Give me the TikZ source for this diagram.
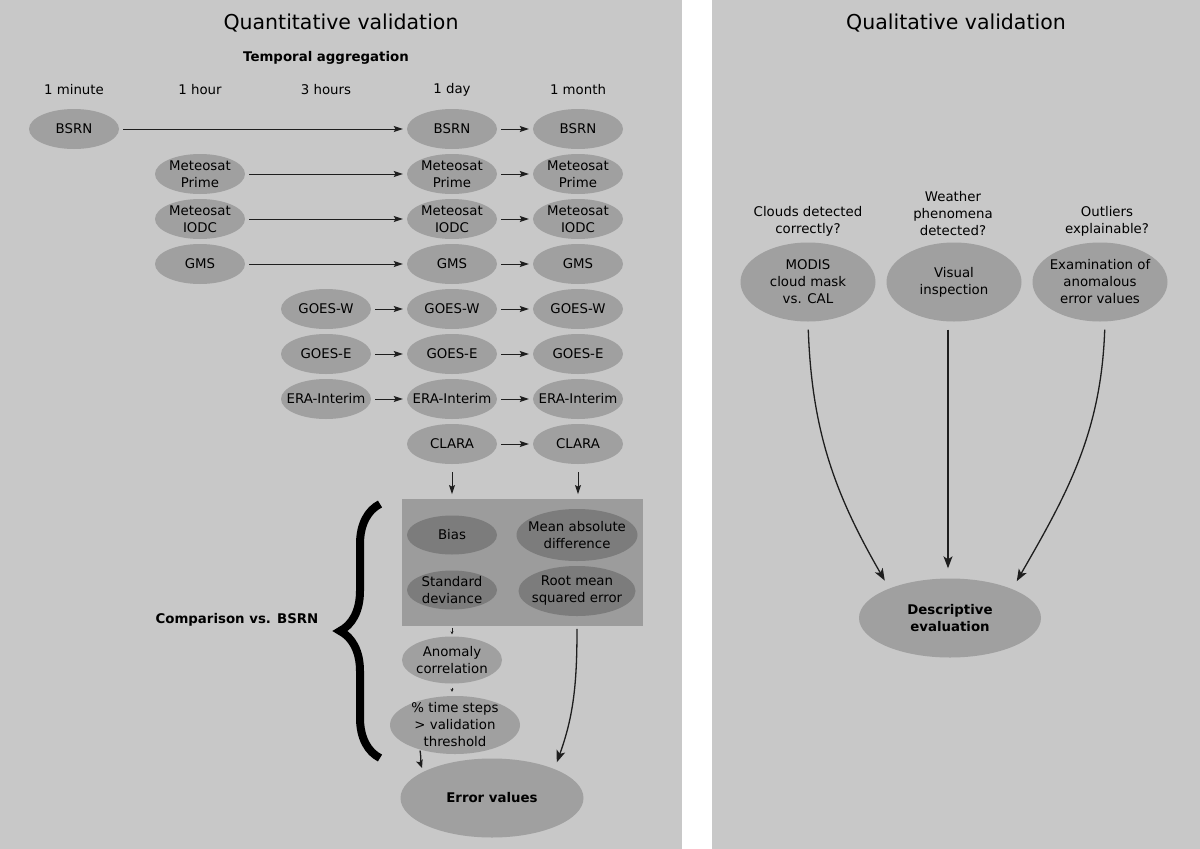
\documentclass[tikz,border=0pt]{standalone}
\usepackage{fontspec}
\setmainfont{DejaVu Sans}
\usetikzlibrary{shapes.geometric, arrows.meta, fit, backgrounds, decorations.pathreplacing}
\definecolor{panelGray}{RGB}{200, 200, 200}
\definecolor{nodeGray}{RGB}{160, 160, 160}
\definecolor{boxGray}{RGB}{156, 156, 156}
\definecolor{metricGray}{RGB}{124, 124, 124}
\definecolor{lineGray}{RGB}{30, 30, 30}
\newcommand{\lblfont}{\fontsize{13.33}{17}\selectfont}
\tikzset{
    % Base Ellipse Style
    dataset/.style={
        ellipse,
        fill=nodeGray,
        minimum width=90pt,
        minimum height=40pt,
        inner xsep=-9pt,
        inner ysep=-4pt,
        align=center,
        font=\lblfont
    },
    % Specific Role Styles
    metric/.style={dataset, fill=metricGray, minimum height=39pt},
    method/.style={dataset, minimum width=135pt, minimum height=79pt},
    result/.style={dataset, minimum width=182pt, minimum height=79pt, font=\lblfont\bfseries},
    % Text Styles
    colHead/.style={font=\lblfont, inner sep=0pt},
    question/.style={font=\lblfont, align=center, inner sep=0pt},
    panelTitle/.style={font=\fontsize{20.5}{24}\selectfont, inner sep=0pt},
    groupLabel/.style={font=\lblfont\bfseries, inner sep=0pt},
    % Arrow Styles
    arrow/.style={-{Stealth[length=9pt, width=6pt, inset=1.5pt]}, line width=1pt, draw=lineGray, shorten <=4pt, shorten >=4pt},
    bigArrow/.style={-{Stealth[length=12pt, width=9pt, inset=3pt]}, line width=1.3pt, draw=lineGray},
    tinyArrow/.style={-{Stealth[length=3pt, width=3pt]}, line width=0.6pt, draw=lineGray}
}

\begin{document}
\begin{tikzpicture}[x=1pt, y=1pt]

    \useasboundingbox (0,-849) rectangle (1200,0);

    % --- Panels ---
    \begin{scope}[on background layer]
        \fill[white] (0,-849) rectangle (1200,0);
        \fill[panelGray] (0,-849) rectangle (682,0);
        \fill[panelGray] (712,-849) rectangle (1200,0);
    \end{scope}

    % --- LEFT PANEL (Quantitative) ---
    \node (quantTitle) [panelTitle] at (341,-23) {Quantitative validation};
    \node (tempAgg) [groupLabel] at (326,-58) {Temporal aggregation};

    % Column headers
    \node (headMin) [colHead] at (74,-90) {1 minute};
    \node (headHour) [colHead] at (200,-90) {1 hour};
    \node (head3h) [colHead] at (326,-90) {3 hours};
    \node (headDay) [colHead] at (452,-90) {1 day};
    \node (headMonth) [colHead] at (578,-90) {1 month};

    % 1. BSRN
    \node (bsrnMin) [dataset] at (74,-129) {BSRN};
    \node (bsrnDay) [dataset] at (452,-129) {BSRN};
    \node (bsrnMonth) [dataset] at (578,-129) {BSRN};

    % 2. Meteosat Prime
    \node (primeHour) [dataset] at (200,-174) {Meteosat\\Prime};
    \node (primeDay) [dataset] at (452,-174) {Meteosat\\Prime};
    \node (primeMonth) [dataset] at (578,-174) {Meteosat\\Prime};

    % 3. Meteosat IODC
    \node (iodcHour) [dataset] at (200,-219) {Meteosat\\IODC};
    \node (iodcDay) [dataset] at (452,-219) {Meteosat\\IODC};
    \node (iodcMonth) [dataset] at (578,-219) {Meteosat\\IODC};

    % 4. GMS
    \node (gmsHour) [dataset] at (200,-264) {GMS};
    \node (gmsDay) [dataset] at (452,-264) {GMS};
    \node (gmsMonth) [dataset] at (578,-264) {GMS};

    % 5. GOES-W
    \node (goesW3h) [dataset] at (326,-309) {GOES-W};
    \node (goesWDay) [dataset] at (452,-309) {GOES-W};
    \node (goesWMonth) [dataset] at (578,-309) {GOES-W};

    % 6. GOES-E
    \node (goesE3h) [dataset] at (326,-354) {GOES-E};
    \node (goesEDay) [dataset] at (452,-354) {GOES-E};
    \node (goesEMonth) [dataset] at (578,-354) {GOES-E};

    % 7. ERA-Interim
    \node (era3h) [dataset] at (326,-399) {ERA-Interim};
    \node (eraDay) [dataset] at (452,-399) {ERA-Interim};
    \node (eraMonth) [dataset] at (578,-399) {ERA-Interim};

    % 8. CLARA
    \node (claraDay) [dataset] at (452,-444) {CLARA};
    \node (claraMonth) [dataset] at (578,-444) {CLARA};

    % --- Aggregation Arrows ---
    \draw [arrow] (bsrnMin) -- (bsrnDay);
    \draw [arrow] (bsrnDay) -- (bsrnMonth);
    \draw [arrow] (primeHour) -- (primeDay);
    \draw [arrow] (primeDay) -- (primeMonth);
    \draw [arrow] (iodcHour) -- (iodcDay);
    \draw [arrow] (iodcDay) -- (iodcMonth);
    \draw [arrow] (gmsHour) -- (gmsDay);
    \draw [arrow] (gmsDay) -- (gmsMonth);
    \draw [arrow] (goesW3h) -- (goesWDay);
    \draw [arrow] (goesWDay) -- (goesWMonth);
    \draw [arrow] (goesE3h) -- (goesEDay);
    \draw [arrow] (goesEDay) -- (goesEMonth);
    \draw [arrow] (era3h) -- (eraDay);
    \draw [arrow] (eraDay) -- (eraMonth);
    \draw [arrow] (claraDay) -- (claraMonth);

    % --- Comparison Metrics ---
    \node (bias) [metric] at (452,-535) {Bias};
    \node (mad) [metric, minimum width=121pt, minimum height=52pt, inner xsep=-12pt] at (577,-535) {Mean absolute\\difference};
    \node (stdDev) [metric] at (452,-590) {Standard\\deviance};
    \node (rmse) [metric, minimum width=117pt, minimum height=50pt, inner xsep=-12pt] at (577,-591) {Root mean\\squared error};

    \begin{scope}[on background layer]
        \node [fit=(bias)(mad)(stdDev)(rmse), fill=boxGray, inner xsep=5pt, inner ysep=9.5pt] (metricBox) {};
    \end{scope}

    \node (anomaly) [dataset, minimum width=100pt, minimum height=47pt] at (452,-660) {Anomaly\\correlation};
    \node (timeSteps) [dataset, minimum width=130pt, minimum height=58pt] at (455,-725) {\% time steps\\> validation\\threshold};
    \node (errVal) [result, minimum width=183pt] at (492,-798) {Error values};

    \draw [arrow, shorten <=8pt, shorten >=5pt] (claraDay.south) -- (claraDay.south |- metricBox.north);
    \draw [arrow, shorten <=8pt, shorten >=5pt] (claraMonth.south) -- (claraMonth.south |- metricBox.north);
    \draw [tinyArrow, shorten <=2pt, shorten >=2pt] (anomaly.north |- metricBox.south) -- (anomaly.north);
    \draw [tinyArrow, shorten <=4pt, shorten >=4pt] (anomaly.south) -- (anomaly.south |- timeSteps.north);
    \draw [bigArrow, shorten <=3pt, shorten >=7pt] (rmse.south |- metricBox.south) to[out=-90, in=70] (errVal.25);
    \draw [bigArrow, -{Stealth[length=8pt, width=7pt, inset=2pt]}, shorten <=1pt, shorten >=4pt] (timeSteps.-145) to[out=-80, in=110] (errVal.159);

    % --- Brace ---
    \coordinate (braceBot) at (380,-758);
    \coordinate (braceTop) at (380,-504);
    \draw [line width=8pt, decorate, decoration={brace, amplitude=40pt}] (braceBot) -- (braceTop);
    \node (compLabel) [groupLabel] at (237,-620) {Comparison vs. BSRN};

    % --- RIGHT PANEL (Qualitative) ---
    \node (qualTitle) [panelTitle] at (956,-23) {Qualitative validation};

    \node (qClouds) [question] at (808,-221) {Clouds detected\\correctly?};
    \node (qWeather) [question] at (953,-214) {Weather\\phenomena\\detected?};
    \node (qOutliers) [question] at (1107,-221) {Outliers\\explainable?};

    \node (modis) [method] at (808,-282) {MODIS\\cloud mask\\vs. CAL};
    \node (visual) [method] at (954,-282) {Visual\\inspection};
    \node (exam) [method] at (1100,-282) {Examination of\\anomalous\\error values};

    \node (descr) [result] at (950,-618) {Descriptive\\evaluation};

    \draw [bigArrow, shorten <=8pt, shorten >=9pt] (modis.south) to[out=-88, in=120] (descr.154);
    \draw [bigArrow, shorten <=8pt, shorten >=10pt] ([xshift=-6pt]visual.south) -- ([xshift=-6pt]visual.south |- descr.north);
    \draw [bigArrow, shorten <=8pt, shorten >=9pt] ([xshift=5pt]exam.south) to[out=-92, in=60] (descr.25);

\end{tikzpicture}
\end{document}
